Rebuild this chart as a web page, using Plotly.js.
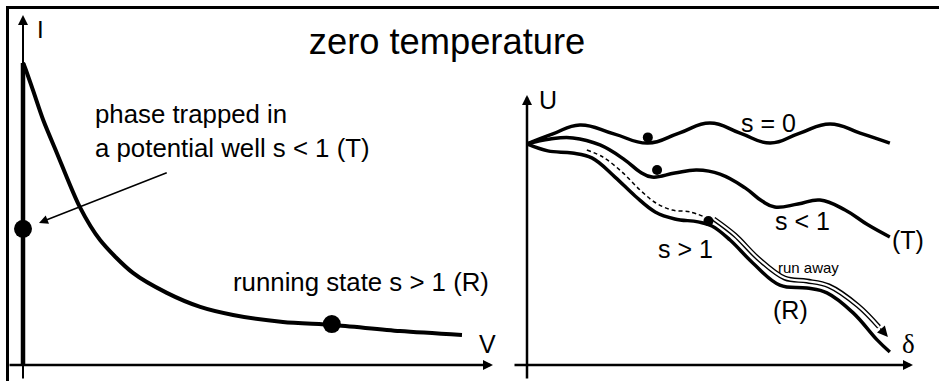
<!DOCTYPE html>
<html><head><meta charset="utf-8">
<script src="https://cdn.plot.ly/plotly-3.0.1.min.js"></script>
<style>html,body{margin:0;padding:0;background:#fff}#chart{width:939px;height:381px}</style>
</head><body><div id="chart"></div>
<script>
// ---------- Left panel: I–V characteristic (normalised: arrow tips at V=1, I=1) ----------
const ivV = [0, 0.004, 0.021, 0.043, 0.072, 0.121, 0.164, 0.234, 0.306, 0.377, 0.447, 0.553, 0.660, 0.802, 0.934];
const ivI = [0.863, 0.851, 0.786, 0.700, 0.606, 0.451, 0.357, 0.263, 0.206, 0.166, 0.143, 0.123, 0.114, 0.097, 0.086];
const branchV = [0, 0];
const branchI = [0, 0.863];
const stateV = [0, 0.657];          // trapped state (T), running state (R)
const stateI = [0.389, 0.117];

// ---------- Right panel: tilted washboard potential U(δ) ----------
const s0Delta = [0, 0.067, 0.137, 0.225, 0.313, 0.394, 0.474, 0.552, 0.630, 0.707, 0.785, 0.863, 0.940];
const s0U     = [0.819, 0.856, 0.889, 0.856, 0.822, 0.859, 0.896, 0.859, 0.822, 0.859, 0.893, 0.859, 0.822];
const sLtDelta = [0, 0.060, 0.119, 0.189, 0.254, 0.293, 0.324, 0.383, 0.440, 0.500, 0.565, 0.609, 0.642, 0.702, 0.759, 0.824, 0.883, 0.940];
const sLtU     = [0.819, 0.837, 0.841, 0.815, 0.759, 0.715, 0.696, 0.711, 0.722, 0.707, 0.656, 0.607, 0.585, 0.596, 0.611, 0.574, 0.519, 0.474];
const sGtDelta = [0, 0.054, 0.117, 0.168, 0.228, 0.280, 0.332, 0.383, 0.443, 0.479, 0.526, 0.585, 0.655, 0.725, 0.777, 0.845, 0.907, 0.940];
const sGtU     = [0.819, 0.793, 0.785, 0.767, 0.696, 0.626, 0.567, 0.541, 0.530, 0.515, 0.463, 0.378, 0.296, 0.285, 0.267, 0.193, 0.093, 0.048];
const pathDelta = [0.155, 0.197, 0.246, 0.293, 0.334, 0.376, 0.422, 0.461];
const pathU     = [0.796, 0.770, 0.715, 0.648, 0.600, 0.574, 0.567, 0.548];
const runDelta = [0.484, 0.539, 0.598, 0.668, 0.725, 0.782, 0.858, 0.912];
const runU     = [0.541, 0.481, 0.396, 0.322, 0.311, 0.293, 0.219, 0.141];
const runTip   = [0.935, 0.104];
const ballDelta = [0.313, 0.337, 0.47];
const ballU     = [0.843, 0.722, 0.533];

// ---------- labels ----------
const titleText = 'zero temperature';
const trappedText = 'phase trapped in<br>a potential well s &lt; 1 (T)';
const runningText = 'running state s &gt; 1 (R)';
const labels2 = ['s = 0', 's &lt; 1', '(T)', 's &gt; 1', '(R)'];

const W = 939, H = 381;
const PX = x => x / W, PY = y => 1 - y / H;
const SANS = 'Liberation Sans, Arial, Helvetica, sans-serif';
const SERIF = 'Liberation Serif, Times New Roman, serif';
const K = '#000';

const traces = [
  {x: branchV, y: branchI, xaxis: 'x', yaxis: 'y', mode: 'lines', line: {color: K, width: 4.5}, hoverinfo: 'skip'},
  {x: ivV, y: ivI, xaxis: 'x', yaxis: 'y', mode: 'lines', line: {color: K, width: 4, shape: 'spline', smoothing: 0.8}, hoverinfo: 'skip'},
  {x: stateV, y: stateI, xaxis: 'x', yaxis: 'y', mode: 'markers', marker: {color: K, size: 18}, hoverinfo: 'skip'},

  {x: s0Delta, y: s0U, xaxis: 'x2', yaxis: 'y2', mode: 'lines', line: {color: K, width: 3.5, shape: 'spline', smoothing: 1.3}, hoverinfo: 'skip'},
  {x: sLtDelta, y: sLtU, xaxis: 'x2', yaxis: 'y2', mode: 'lines', line: {color: K, width: 3.5, shape: 'spline', smoothing: 1.2}, hoverinfo: 'skip'},
  {x: sGtDelta, y: sGtU, xaxis: 'x2', yaxis: 'y2', mode: 'lines', line: {color: K, width: 3.5, shape: 'spline', smoothing: 1.1}, hoverinfo: 'skip'},
  {x: pathDelta, y: pathU, xaxis: 'x2', yaxis: 'y2', mode: 'lines', line: {color: K, width: 1.5, dash: '4px,3px', shape: 'spline'}, hoverinfo: 'skip'},
  {x: runDelta, y: runU, xaxis: 'x2', yaxis: 'y2', mode: 'lines', line: {color: K, width: 5, shape: 'spline'}, hoverinfo: 'skip'},
  {x: runDelta, y: runU, xaxis: 'x2', yaxis: 'y2', mode: 'lines', line: {color: '#fff', width: 2.2, shape: 'spline'}, hoverinfo: 'skip'},
  {x: ballDelta, y: ballU, xaxis: 'x2', yaxis: 'y2', mode: 'markers', marker: {color: K, size: 10}, hoverinfo: 'skip'}
];

function arrow(xr, yr, x, y, ax, ay, w, s) {
  return {xref: xr, yref: yr, axref: xr, ayref: yr, x: x, y: y, ax: ax, ay: ay, text: '',
          showarrow: true, arrowhead: 2, arrowwidth: w, arrowsize: s, arrowcolor: K, standoff: 0, startstandoff: 0};
}
function label(text, x, y, size, opts) {
  return Object.assign({xref: 'paper', yref: 'paper', x: PX(x), y: PY(y), text: text, showarrow: false,
          xanchor: 'center', yanchor: 'middle', font: {family: SANS, size: size, color: K}}, opts || {});
}

const annotations = [
  // axes of the left panel
  arrow('x', 'y', 0, 1.0, 0, -15 / 350, 2, 1),
  arrow('x', 'y', 1.0, 0, -15 / 470, 0, 2.5, 0.8),
  // axes of the right panel
  arrow('x2', 'y2', 0, 1.0, 0, -15 / 270, 2.5, 0.8),
  arrow('x2', 'y2', 1.0, 0, -14 / 386, 0, 2.5, 0.8),
  // pointer to the trapped state
  arrow('x', 'y', 0.034, 0.406, 0.309, 0.551, 1.5, 1.2),
  // run-away arrow head
  arrow('x2', 'y2', runTip[0], runTip[1], runDelta[runDelta.length - 1], runU[runU.length - 1], 1.5, 1.4),

  label('I', 40, 30, 24),
  label('V', 487, 344, 25),
  label('U', 548, 100, 25),
  label('δ', 908, 344, 27, {font: {family: SERIF, size: 27, color: K}}),
  label(trappedText, 93, 131, 25.8, {xanchor: 'left', align: 'left'}),
  label(runningText, 231, 282, 25.8, {xanchor: 'left', align: 'left'}),
  label(labels2[0], 768, 123, 25),
  label(labels2[1], 802, 221, 25),
  label(labels2[2], 908, 240, 25),
  label(labels2[3], 685, 249, 25),
  label(labels2[4], 790, 310, 25),
  label('run away', 808, 267, 15)
];

const shapes = [
  {type: 'line', xref: 'paper', yref: 'paper', x0: PX(6), y0: PY(7.5), x1: 1, y1: PY(7.5), line: {color: K, width: 3}},
  {type: 'line', xref: 'paper', yref: 'paper', x0: PX(7.5), y0: PY(6), x1: PX(7.5), y1: 0, line: {color: K, width: 3}}
];

const hidden = {visible: false, showgrid: false, zeroline: false, fixedrange: true};
const layout = {
  width: W, height: H,
  margin: {l: 0, r: 0, t: 0, b: 0, pad: 0},
  paper_bgcolor: '#fff', plot_bgcolor: 'rgba(0,0,0,0)',
  showlegend: false,
  title: {text: titleText, font: {family: SANS, size: 36.3, color: K}, x: PX(447), xanchor: 'center', xref: 'paper',
          y: PY(41), yanchor: 'middle', yref: 'container'},
  xaxis: Object.assign({domain: [0, 1], range: [-23 / 470, 916 / 470], anchor: 'y'}, hidden),
  yaxis: Object.assign({domain: [0, 1], range: [-16 / 350, 365 / 350], anchor: 'x'}, hidden),
  xaxis2: Object.assign({domain: [0, 1], range: [-527 / 386, 412 / 386], anchor: 'y2'}, hidden),
  yaxis2: Object.assign({domain: [0, 1], range: [-16 / 270, 365 / 270], anchor: 'x2'}, hidden),
  annotations: annotations,
  shapes: shapes
};

Plotly.newPlot('chart', traces, layout, {staticPlot: true, displayModeBar: false});
</script>
</body></html>
